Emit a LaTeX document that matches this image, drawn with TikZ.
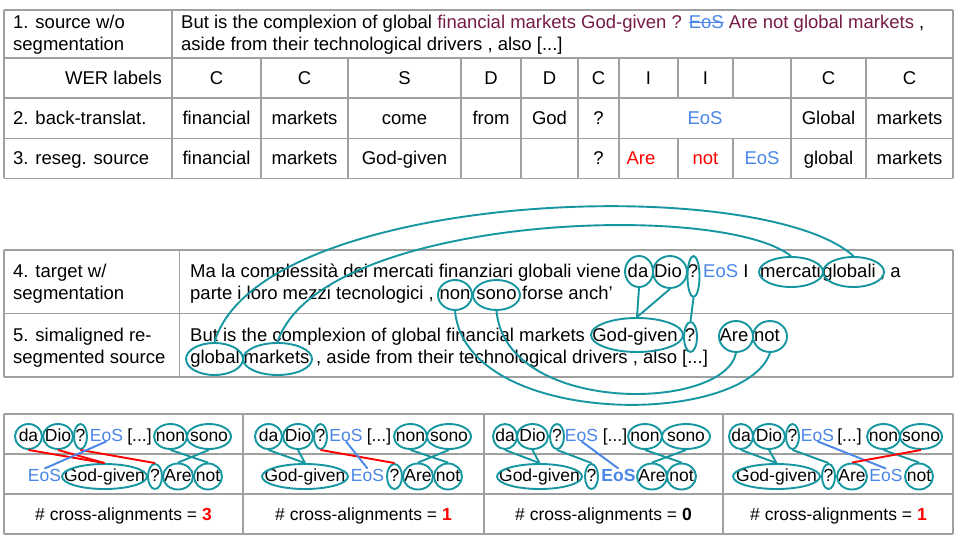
\documentclass[tikz,border=0pt]{standalone}
\usepackage{fontspec}
\setmainfont{Liberation Sans}
\usetikzlibrary{shapes.geometric}
\definecolor{gridc}{RGB}{160,160,160}
\definecolor{tealc}{RGB}{22,150,160}
\definecolor{purp}{RGB}{116,27,71}
\definecolor{eosb}{RGB}{74,134,232}
\definecolor{redc}{RGB}{255,0,0}
\newcommand\tfont{\fontsize{18.5}{22}\selectfont}
\newcommand\pfont{\fontsize{17.5}{21}\selectfont}
\newcommand\stk[1]{\leavevmode\setbox0=\hbox{#1}\rlap{\vrule width\wd0 height 0.40em depth -0.33em}\box0}
\newcommand\wordell[6]{%
  \node[pw] (#1) at (#2,#3) {#6};
  \node[ell={#4}{#5}] (#1E) at ([yshift=4.5pt]#1.base) {};}
\tikzset{
  gridline/.style={draw=gridc, line width=1.2pt},
  txt/.style={inner sep=0pt, anchor=base west, font=\tfont},
  ctxt/.style={inner sep=0pt, anchor=base, font=\tfont},
  pw/.style={inner sep=0pt, anchor=base, font=\pfont},
  ell/.style 2 args={ellipse, draw=tealc, line width=1.9pt, inner sep=0pt,
    minimum width=#1pt, minimum height=#2pt},
  tealL/.style={draw=tealc, line width=1.9pt},
  redL/.style={draw=redc, line width=1.9pt},
  blueL/.style={draw=eosb, line width=1.9pt},
}
\begin{document}
\begin{tikzpicture}[x=1pt,y=-1pt]
\useasboundingbox (0,0) rectangle (960,540);
\fill[white] (0,0) rectangle (960,540);

% ---------------- Table 1 ----------------
\foreach \yy in {10,58,98,138.5,178.5} \draw[gridline] (4,\yy) -- (953,\yy);
\foreach \xx in {4,172,953} \draw[gridline] (\xx,10) -- (\xx,178.5);
\foreach \xx in {261,348,461,521,578,619,791,866} \draw[gridline] (\xx,58) -- (\xx,178.5);
\foreach \xx in {678,733} {\draw[gridline] (\xx,58) -- (\xx,98); \draw[gridline] (\xx,138.5) -- (\xx,178.5);}

\node[txt] (h1a) at (13,29) {1. source w/o};
\node[txt] (h1b) at (13,51) {segmentation};
\node[txt] (s1a) at (181,29) {But is the complexion of global \textcolor{purp}{financial markets God-given ?} \textcolor{eosb}{\stk{EoS}} \textcolor{purp}{Are not global markets} ,};
\node[txt] (s1b) at (181,51) {aside from their technological drivers , also [...]};

\node[ctxt, anchor=base east] (wer) at (162,84.5) {WER labels};
\node[ctxt] (w1) at (216.5,84.5) {C};
\node[ctxt] (w2) at (304.5,84.5) {C};
\node[ctxt] (w3) at (404.5,84.5) {S};
\node[ctxt] (w4) at (491,84.5) {D};
\node[ctxt] (w5) at (549.5,84.5) {D};
\node[ctxt] (w6) at (598.5,84.5) {C};
\node[ctxt] (w7) at (648.5,84.5) {I};
\node[ctxt] (w8) at (705.5,84.5) {I};
\node[ctxt] (w10) at (828.5,84.5) {C};
\node[ctxt] (w11) at (909.5,84.5) {C};

\node[txt] (bt) at (13,124.5) {2. back-translat.};
\node[ctxt] (b1) at (216.5,124.5) {financial};
\node[ctxt] (b2) at (304.5,124.5) {markets};
\node[ctxt] (b3) at (404.5,124.5) {come};
\node[ctxt] (b4) at (491,124.5) {from};
\node[ctxt] (b5) at (549.5,124.5) {God};
\node[ctxt] (b6) at (598.5,124.5) {?};
\node[ctxt, text=eosb] (b7) at (705,124.5) {EoS};
\node[ctxt] (b10) at (828.5,124.5) {Global};
\node[ctxt] (b11) at (909.5,124.5) {markets};

\node[txt] (rs) at (13,164.5) {3. reseg. source};
\node[ctxt] (r1) at (216.5,164.5) {financial};
\node[ctxt] (r2) at (304.5,164.5) {markets};
\node[ctxt] (r3) at (404.5,164.5) {God-given};
\node[ctxt] (r6) at (598.5,164.5) {?};
\node[ctxt, text=redc] (r7) at (641,164.5) {Are};
\node[ctxt, text=redc] (r8) at (705.5,164.5) {not};
\node[ctxt, text=eosb] (r9) at (762,164.5) {EoS};
\node[ctxt] (r10) at (828.5,164.5) {global};
\node[ctxt] (r11) at (909.5,164.5) {markets};

% ---------------- Table 2 ----------------
\foreach \yy in {250,313.5,377} \draw[gridline] (4,\yy) -- (953,\yy);
\foreach \xx in {4,179.5,953} \draw[gridline] (\xx,250) -- (\xx,377);

\node[txt] (h4a) at (13,277) {4. target w/};
\node[txt] (h4b) at (13,299) {segmentation};
\node[txt] (h5a) at (13,341) {5. simaligned re-};
\node[txt] (h5b) at (13,363) {segmented source};

% row 4, line 1
\node[txt] (t4a) at (190,277) {Ma la complessità dei mercati finanziari globali viene};
\node[ctxt] (wDa) at (638,277) {da};
\node[ctxt] (wDio) at (668,277) {Dio};
\node[ctxt] (wQ4) at (693,277) {?};
\node[txt] (t4e) at (703,277) {\textcolor{eosb}{EoS} I};
\node[ctxt] (wMercati) at (790.5,277) {mercati};
\node[ctxt] (wGlobali) at (849,277) {globali};
\node[txt] (t4f) at (880,277) {, a};
% row 4, line 2
\node[txt] (t4b) at (190,299) {parte i loro mezzi tecnologici ,};
\node[ctxt] (wNon) at (455,299) {non};
\node[ctxt] (wSono) at (496.5,299) {sono};
\node[txt] (t4c) at (522,299) {forse anch’};
% row 5, line 1
\node[txt] (t5a) at (190,341) {But is the complexion of global financial markets};
\node[ctxt] (wGG) at (635,341) {God-given};
\node[ctxt] (wQ5) at (690,341) {?};
\node[ctxt] (wAre) at (734,341) {Are};
\node[ctxt] (wNot) at (767,341) {not};
% row 5, line 2
\node[ctxt] (wGlobal) at (215,363) {global};
\node[ctxt] (wMarkets) at (276.5,363) {markets};
\node[txt] (t5b) at (316,363) {, aside from their technological drivers , also [...]};

\node[ell={28}{31}] (daE) at (639,271.5) {};
\node[ell={34}{32}] (dioE) at (670,272) {};
\node[ell={12}{41}] (q4E) at (693.5,276.5) {};
\node[ell={64}{30}] (mercatiE) at (791,272) {};
\node[ell={61}{30}] (globaliE) at (853.5,272) {};
\node[ell={34}{30}] (nonE) at (455,295) {};
\node[ell={47}{30}] (sonoE) at (496.5,295) {};
\node[ell={92}{34}] (ggE) at (637,335) {};
\node[ell={13}{30}] (q5E) at (690.5,337) {};
\node[ell={34}{31}] (areE) at (736,336.5) {};
\node[ell={34}{31}] (notE) at (770,336.5) {};
\node[ell={57}{32}] (globalE) at (214.5,359) {};
\node[ell={69}{32}] (marketsE) at (277.5,359) {};

\draw[tealL] (daE.south) -- (ggE.north);
\draw[tealL] (dioE.south) -- (ggE.north);
\draw[tealL] (q4E.south) -- (q5E.north);
\draw[tealL] (mercatiE.north) .. controls (720,200) and (320,215) .. (marketsE.north);
\draw[tealL] (globaliE.north) .. controls (760,172) and (260,190) .. (globalE.north);
\draw[tealL] (nonE.south) .. controls (466,428) and (744,428) .. (notE.south);
\draw[tealL] (sonoE.south) .. controls (506,415) and (724,412) .. (areE.south);

% ---------------- Table 3 ----------------
\foreach \yy in {414,454,494,534} \draw[gridline] (4,\yy) -- (953,\yy);
\foreach \xx in {4,243,484,723,953} \draw[gridline] (\xx,414) -- (\xx,534);

% panel 1
\wordell{aDa}{28.5}{441}{27}{25}{da}
\wordell{aDio}{58}{441}{30}{25}{Dio}
\wordell{aQ}{80.5}{441}{13}{25}{?}
\node[pw, text=eosb] (aEoS) at (106.5,441) {EoS};
\node[pw] (aDots) at (139.5,441) {[...]};
\wordell{aNon}{170.5}{441}{33}{25}{non}
\wordell{aSono}{209}{441}{44}{25}{sono}
\node[pw, text=eosb] (aEoSb) at (44.5,481) {EoS};
\wordell{aGG}{104.5}{481}{85}{25}{God-given}
\wordell{aQb}{155}{481}{14}{25}{?}
\wordell{aAre}{178}{481}{30}{26}{Are}
\wordell{aNot}{208}{481}{28}{26}{not}
\draw[redL] (aDaE.south) -- (aGGE.north);
\draw[redL] (aDioE.south) -- (aGGE.north);
\draw[redL] (aQE.south) -- (aQbE.north);
\draw[blueL] (aEoS.south) -- (aEoSb.north);
\draw[tealL] (aNonE.south) -- (aNotE.north);
\draw[tealL] (aSonoE.south) -- (aAreE.north);
\node[pw] (aCnt) at (123.5,520) {\# cross-alignments = \textcolor{redc}{\textbf{3}}};

% panel 2
\wordell{bDa}{268.5}{441}{27}{25}{da}
\wordell{bDio}{298}{441}{30}{25}{Dio}
\wordell{bQ}{320.5}{441}{13}{25}{?}
\node[pw, text=eosb] (bEoS) at (346,441) {EoS};
\node[pw] (bDots) at (379,441) {[...]};
\wordell{bNon}{410.5}{441}{33}{25}{non}
\wordell{bSono}{449}{441}{44}{25}{sono}
\wordell{bGG}{305}{481}{86}{25}{God-given}
\node[pw, text=eosb] (bEoSb) at (367.5,481) {EoS};
\wordell{bQb}{394.5}{481}{15}{25}{?}
\wordell{bAre}{418}{481}{30}{26}{Are}
\wordell{bNot}{448}{481}{28}{26}{not}
\draw[tealL] (bDaE.south) -- (bGGE.north);
\draw[tealL] (bDioE.south) -- (bGGE.north);
\draw[redL] (bQE.south) -- (bQbE.north);
\draw[blueL] (bEoS.south) -- (bEoSb.north);
\draw[tealL] (bNonE.south) -- (bNotE.north);
\draw[tealL] (bSonoE.south) -- (bAreE.north);
\node[pw] (bCnt) at (363.5,520) {\# cross-alignments = \textcolor{redc}{\textbf{1}}};

% panel 3
\wordell{cDa}{505}{441}{24}{25}{da}
\wordell{cDio}{532.5}{441}{31}{25}{Dio}
\wordell{cQ}{557}{441}{14}{25}{?}
\node[pw, text=eosb] (cEoS) at (581.5,441) {EoS};
\node[pw] (cDots) at (615,441) {[...]};
\wordell{cNon}{645}{441}{34}{25}{non}
\wordell{cSono}{686}{441}{48}{25}{sono}
\wordell{cGG}{539.5}{481}{85}{25}{God-given}
\wordell{cQb}{591.5}{481}{13}{25}{?}
\node[pw, text=eosb] (cEoSb) at (618.5,481) {\textbf{EoS}};
\wordell{cAre}{652}{481}{30}{26}{Are}
\wordell{cNot}{681.5}{481}{29}{26}{not}
\draw[tealL] (cDaE.south) -- (cGGE.north);
\draw[tealL] (cDioE.south) -- (cGGE.north);
\draw[tealL] (cQE.south) -- (cQbE.north);
\draw[blueL] (cEoS.south) -- (cEoSb.north);
\draw[tealL] (cNonE.south) -- (cNotE.north);
\draw[tealL] (cSonoE.south) -- (cAreE.north);
\node[pw] (cCnt) at (603.5,520) {\# cross-alignments = \textbf{0}};

% panel 4
\wordell{dDa}{741}{441}{24}{25}{da}
\wordell{dDio}{769}{441}{32}{25}{Dio}
\wordell{dQ}{792.5}{441}{13}{25}{?}
\node[pw, text=eosb] (dEoS) at (817.5,441) {EoS};
\node[pw] (dDots) at (849.5,441) {[...]};
\wordell{dNon}{883.5}{441}{33}{25}{non}
\wordell{dSono}{921}{441}{42}{25}{sono}
\wordell{dGG}{776.5}{481}{87}{25}{God-given}
\wordell{dQb}{828.5}{481}{13}{25}{?}
\wordell{dAre}{852}{481}{30}{26}{Are}
\node[pw, text=eosb] (dEoSb) at (886,481) {EoS};
\wordell{dNot}{919}{481}{28}{26}{not}
\draw[tealL] (dDaE.south) -- (dGGE.north);
\draw[tealL] (dDioE.south) -- (dGGE.north);
\draw[tealL] (dQE.south) -- (dQbE.north);
\draw[blueL] (dEoS.south) -- (dEoSb.north);
\draw[tealL] (dNonE.south) -- (dNotE.north);
\draw[redL] (dSonoE.south) -- (dAreE.north);
\node[pw] (dCnt) at (838.5,520) {\# cross-alignments = \textcolor{redc}{\textbf{1}}};
\end{tikzpicture}
\end{document}
